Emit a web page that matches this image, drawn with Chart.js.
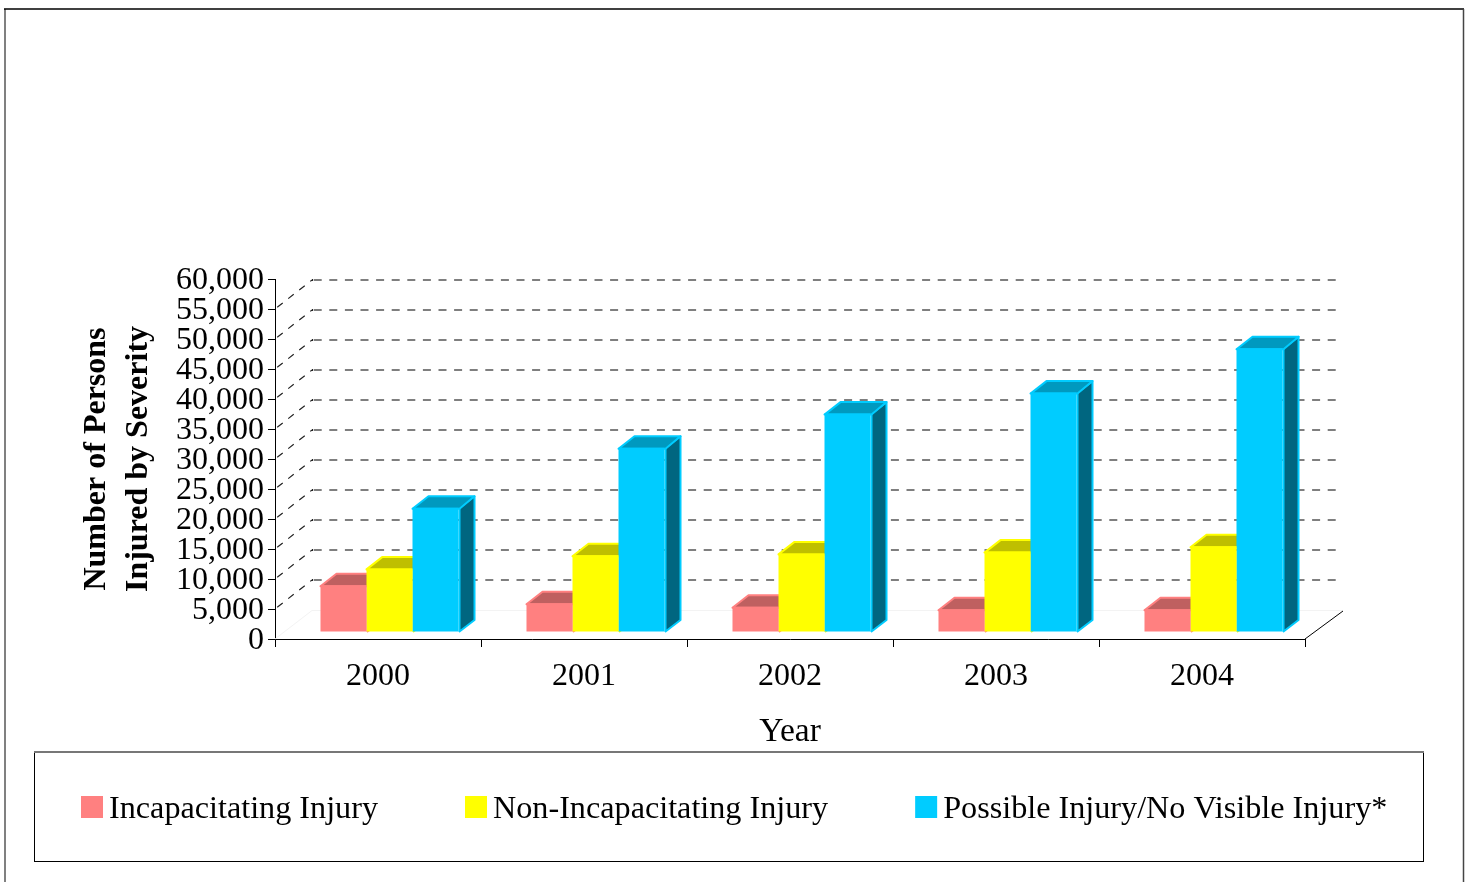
<!DOCTYPE html>
<html>
<head>
<meta charset="utf-8">
<title>Persons injured by severity</title>
<script src="https://cdn.jsdelivr.net/npm/chart.js@4"></script>
<style>
    body { margin: 0; background: #fff; }
    canvas { display: block; }
</style>
</head>
<body>
<canvas id="injuryChart" width="1469" height="882"></canvas>
<script>
// Values
const years = ['2000', '2001', '2002', '2003', '2004'];
const incapacitating = [7800, 4800, 4200, 3800, 3800];
const nonIncapacitating = [10600, 12800, 13100, 13400, 14300];
const possibleInjury = [20700, 30700, 36400, 39900, 47300];
const yTicks = [0, 5000, 10000, 15000, 20000, 25000, 30000, 35000, 40000, 45000, 50000, 55000, 60000];

const serif = '"Liberation Serif", "Times New Roman", serif';
const fontSize = 32;

// Fake 3D: the bars sit inside the floor, and have a top and a side face
const wallDx = 37, wallDy = 29;
const barShiftX = 11.5, barShiftY = -7;
const depthX = 16, depthY = 11.5;

const faces = [
    { top: '#BF6060', side: '#BF6060' },
    { top: '#BFBF00', side: '#BFBF00' },
    { top: '#0099BF', side: '#006680' }
];

function poly(ctx, pts, fill, stroke) {
    ctx.beginPath();
    pts.forEach((p, i) => i ? ctx.lineTo(p[0], p[1]) : ctx.moveTo(p[0], p[1]));
    ctx.closePath();
    ctx.fillStyle = fill;
    ctx.fill();
    ctx.lineWidth = 2;
    ctx.lineJoin = 'round';
    ctx.strokeStyle = stroke;
    ctx.stroke();
}

function rule(ctx, x1, y1, x2, y2, colour, width) {
    ctx.strokeStyle = colour;
    ctx.lineWidth = width;
    ctx.beginPath();
    ctx.moveTo(x1, y1);
    ctx.lineTo(x2, y2);
    ctx.stroke();
}

const framePlugin = {
    id: 'frame',
    beforeDraw(chart) {
        const ctx = chart.ctx;
        ctx.save();
        ctx.fillStyle = '#fff';
        ctx.fillRect(0, 0, chart.width, chart.height);
        // outer frame, the scan left its sides uneven
        rule(ctx, 5, 9, 5, 882, '#808080', 2);
        rule(ctx, 4, 9, 1464, 9, '#000', 1.5);
        rule(ctx, 1463.5, 9, 1463.5, 882, '#444', 1.5);
        ctx.restore();
    },
    afterDraw(chart) {
        // legend box, spaced like the original
        const ctx = chart.ctx;
        ctx.save();
        ctx.strokeStyle = '#000';
        ctx.lineWidth = 1;
        ctx.strokeRect(34.5, 752.5, 1389, 109);
        rule(ctx, 34, 752, 1424, 752, '#777', 2);
        ctx.font = '32.2px ' + serif;
        ctx.textBaseline = 'alphabetic';
        let x = 81;
        chart.data.datasets.forEach(ds => {
            ctx.fillStyle = ds.backgroundColor;
            ctx.fillRect(x, 796, 22, 22);
            ctx.fillStyle = '#000';
            ctx.fillText(ds.label, x + 28, 818);
            x += 28 + ctx.measureText(ds.label).width + 87;
        });
        ctx.restore();
    }
};

const wallPlugin = {
    id: 'wall',
    beforeDatasetsDraw(chart) {
        const ctx = chart.ctx;
        const yScale = chart.scales.y;
        const area = chart.chartArea;
        const backLeft = area.left + wallDx;
        const floorY = yScale.getPixelForValue(0);

        ctx.save();
        // floor
        ctx.lineWidth = 1;
        ctx.strokeStyle = '#f3f3f3';
        ctx.beginPath();
        ctx.moveTo(area.left, floorY);
        ctx.lineTo(backLeft, floorY - wallDy + 0.5);
        ctx.lineTo(area.right + 38, floorY - wallDy + 0.5);
        ctx.stroke();
        ctx.strokeStyle = '#000';
        ctx.beginPath();
        ctx.moveTo(area.right, floorY);
        ctx.lineTo(area.right + 38, floorY - 28);
        ctx.stroke();

        // dashed lines on the wall and the side
        yTicks.slice(1, -1).forEach(v => {
            const y = yScale.getPixelForValue(v);
            const backY = Math.round(y - wallDy);
            ctx.setLineDash([8, 7.6]);
            ctx.lineDashOffset = 0;
            ctx.lineWidth = 2;
            ctx.strokeStyle = '#7f7f7f';
            ctx.beginPath();
            ctx.moveTo(backLeft + 1.7, backY);
            ctx.lineTo(area.right + 32, backY);
            ctx.stroke();
            ctx.setLineDash([7, 7]);
            ctx.lineDashOffset = -2.8;
            ctx.lineWidth = 1.2;
            ctx.strokeStyle = '#222';
            ctx.beginPath();
            ctx.moveTo(area.left, y);
            ctx.lineTo(backLeft, backY);
            ctx.stroke();
            ctx.fillStyle = '#222';
            ctx.fillRect(backLeft, backY - 1, 1, 2);
        });
        ctx.setLineDash([]);
        ctx.restore();

        // bars are drawn slightly in from the front of the floor
        ctx.save();
        ctx.translate(barShiftX, barShiftY);

        // all the depth faces go first, the library then paints the fronts over them
        chart.data.datasets.forEach((ds, i) => {
            chart.getDatasetMeta(i).data.forEach(bar => {
                const l = bar.x - bar.width / 2, r = bar.x + bar.width / 2 + 1;
                const t = bar.y, b = bar.base;
                poly(ctx, [[r, t], [r + depthX - 1, t - depthY], [r + depthX - 1, b - depthY], [r, b]], faces[i].side, ds.backgroundColor);
                poly(ctx, [[l, t + 1], [l + depthX, t - depthY], [r + depthX - 1, t - depthY], [r, t + 1]], faces[i].top, ds.backgroundColor);
            });
        });
    },
    afterDatasetsDraw(chart) {
        chart.ctx.restore();
    }
};

new Chart(document.getElementById('injuryChart'), {
    type: 'bar',
    data: {
        labels: years,
        datasets: [
            { label: 'Incapacitating Injury', data: incapacitating, backgroundColor: '#FF8080', clip: false },
            { label: 'Non-Incapacitating Injury', data: nonIncapacitating, backgroundColor: '#FFFF00', clip: false },
            { label: 'Possible Injury/No Visible Injury*', data: possibleInjury, backgroundColor: '#00CCFF', clip: false }
        ]
    },
    options: {
        responsive: false,
        animation: false,
        categoryPercentage: 0.67,
        barPercentage: 1,
        layout: { padding: { left: 0, right: 164, top: 279, bottom: 0 } },
        plugins: {
            legend: { display: false },
            tooltip: { enabled: false }
        },
        scales: {
            x: {
                grid: { drawOnChartArea: false, color: '#000', tickLength: 8 },
                border: { color: '#000' },
                ticks: { color: '#000', font: { family: serif, size: fontSize }, padding: 10, maxRotation: 0 },
                title: {
                    display: true,
                    text: 'Year',
                    color: '#000',
                    font: { family: serif, size: 33.5 },
                    padding: { top: 0, bottom: 130 }
                },
                afterFit(scale) { scale.height = 243; }
            },
            y: {
                min: 0,
                max: 60000,
                afterBuildTicks(scale) { scale.ticks = yTicks.map(v => ({ value: v })); },
                grid: { drawOnChartArea: false, color: '#000', tickLength: 7 },
                border: { color: '#000' },
                ticks: {
                    autoSkip: false,
                    color: '#000',
                    font: { family: serif, size: fontSize },
                    padding: 4,
                    labelOffset: 2,
                    callback: v => v.toLocaleString('en-US')
                },
                title: {
                    display: true,
                    text: ['Number of Persons', 'Injured by Severity'],
                    color: '#000',
                    font: { family: serif, size: fontSize, weight: 'bold', lineHeight: 1.3 },
                    padding: { top: 76, bottom: 0 }
                },
                afterFit(scale) { scale.width = 275; }
            }
        }
    },
    plugins: [framePlugin, wallPlugin]
});
</script>
</body>
</html>
